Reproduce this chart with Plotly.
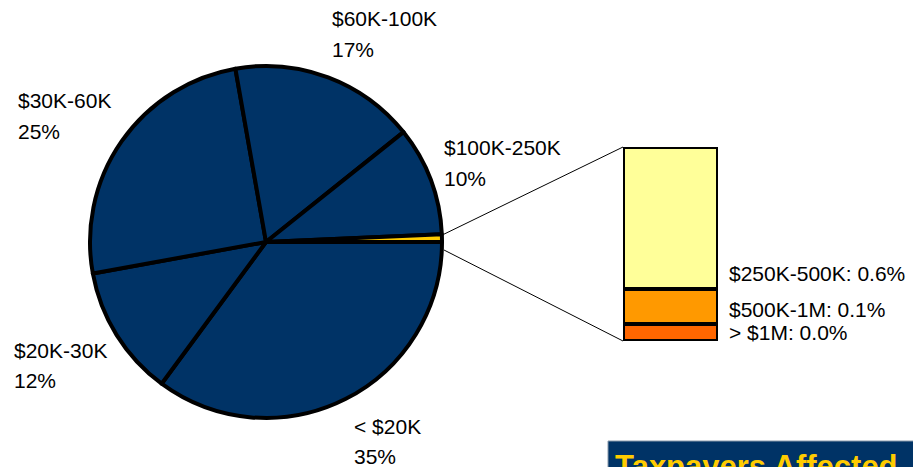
import math
import plotly.graph_objects as go

W, H = 913, 467
OFF = 0  # body margin removed via post_script

# ---- data ----
pie_labels = ["< $20K", "$20K-30K", "$30K-60K", "$60K-100K", "$100K-250K", "> $250K"]
pie_values = [35, 12, 25, 17, 10, 0.7]
pie_pct = ["35%", "12%", "25%", "17%", "10%", ""]

bar_labels = ["> $1M", "$500K-1M", "$250K-500K"]
bar_values = [0.07, 0.15, 0.60]
bar_pct = ["0.0%", "0.1%", "0.6%"]

title_text = "Taxpayers Affected"

# ---- styling / layout ----
NAVY = "#003366"
pie_colors = [NAVY, NAVY, NAVY, NAVY, NAVY, "#FFCC00"]
bar_colors = ["#FF6600", "#FF9900", "#FFFF99"]
FONT = "Liberation Sans, Arial, Helvetica, sans-serif"
FS = 21

# pie geometry (screen pixels)
cx, cy, r = 266, 242, 176
# bar geometry (screen pixels)
bx0, bx1, by_top, by_bot = 623, 718, 147, 341

# label positions (screen pixels: left x, center y of first line)
label_pos = [(353, 426), (13, 350), (17, 101), (331, 19), (443, 148), None]
LINE_GAP = 30

def px(x):
    return (x - OFF) / W

def py(y):
    return 1 - (y - OFF) / H

fig = go.Figure()

fig.add_trace(go.Pie(
    labels=pie_labels, values=pie_values, sort=False, direction="clockwise",
    rotation=90, textinfo="none", hoverinfo="label+percent",
    marker=dict(colors=pie_colors, line=dict(color="black", width=4)),
    domain=dict(x=[px(cx - r), px(cx + r)], y=[py(cy + r), py(cy - r)]),
    showlegend=False,
))

for lab, val, col in zip(bar_labels, bar_values, bar_colors):
    fig.add_trace(go.Bar(
        x=[0], y=[val], name=lab, width=1,
        marker=dict(color=col, line=dict(color="black", width=4)),
        showlegend=False, xaxis="x", yaxis="y",
    ))

total_bar = sum(bar_values)
fig.update_layout(
    width=W, height=H, margin=dict(l=0, r=0, t=0, b=0),
    paper_bgcolor="white", plot_bgcolor="rgba(0,0,0,0)",
    barmode="stack", bargap=0,
    xaxis=dict(domain=[px(bx0), px(bx1)], range=[-0.5, 0.5], visible=False, fixedrange=True),
    yaxis=dict(domain=[py(by_bot), py(by_top)], range=[0, total_bar], visible=False, fixedrange=True),
    font=dict(family=FONT, size=FS, color="black"),
)

annotations = []
for lab, pct, pos in zip(pie_labels, pie_pct, label_pos):
    if pos is None:
        continue
    x, y = pos
    for i, t in enumerate([lab, pct]):
        annotations.append(dict(
            text=t, x=px(x), y=py(y + i * LINE_GAP), xref="paper", yref="paper",
            xanchor="left", yanchor="middle", showarrow=False, borderpad=0,
            font=dict(family=FONT, size=FS, color="black"),
        ))

# bar labels
scale = (by_bot - by_top) / total_bar
cum = 0
for lab, val, pct in zip(bar_labels, bar_values, bar_pct):
    seg_px = val * scale
    annotations.append(dict(
        text=f"{lab}: {pct}", x=0.5, y=cum, xref="x", yref="y",
        xanchor="left", yanchor="middle", xshift=10, yshift=min(seg_px / 2, 15),
        showarrow=False, borderpad=0,
        font=dict(family=FONT, size=FS, color="black"),
    ))
    cum += val

# title box (cut off at bottom right)
annotations.append(dict(
    text=f"<b>{title_text}</b>", x=px(614), y=py(448), xref="paper", yref="paper",
    xanchor="left", yanchor="top", showarrow=False, borderpad=0,
    font=dict(family=FONT, size=31, color="#FFCC00"),
))
fig.update_layout(annotations=annotations)

# connector lines from the small pie slice to the bar
tot = sum(pie_values)
ang_top = math.radians(pie_values[-1] / tot * 360)
p_top = (cx + r * math.cos(ang_top), cy - r * math.sin(ang_top))
p_bot = (cx + r, cy)
shapes = [
    dict(type="rect", xref="paper", yref="paper", x0=px(608), x1=1.05, y0=-0.1, y1=py(441),
         fillcolor=NAVY, line=dict(color="#8899AA", width=1), layer="below"),
    dict(type="line", xref="paper", yref="paper", x0=px(p_top[0] + 2), y0=py(p_top[1]),
         x1=px(bx0), y1=py(by_top), line=dict(color="black", width=1)),
    dict(type="line", xref="paper", yref="paper", x0=px(p_bot[0] + 2), y0=py(p_bot[1] + 8),
         x1=px(bx0), y1=py(by_bot), line=dict(color="black", width=1)),
]
fig.update_layout(shapes=shapes)

fig.write_html(
    "out.html",
    config={"displayModeBar": False},
    post_script=(
        "document.body.style.margin='0';"
        "document.documentElement.style.overflow='hidden';"
        "document.body.style.overflow='hidden';"
    ),
)
